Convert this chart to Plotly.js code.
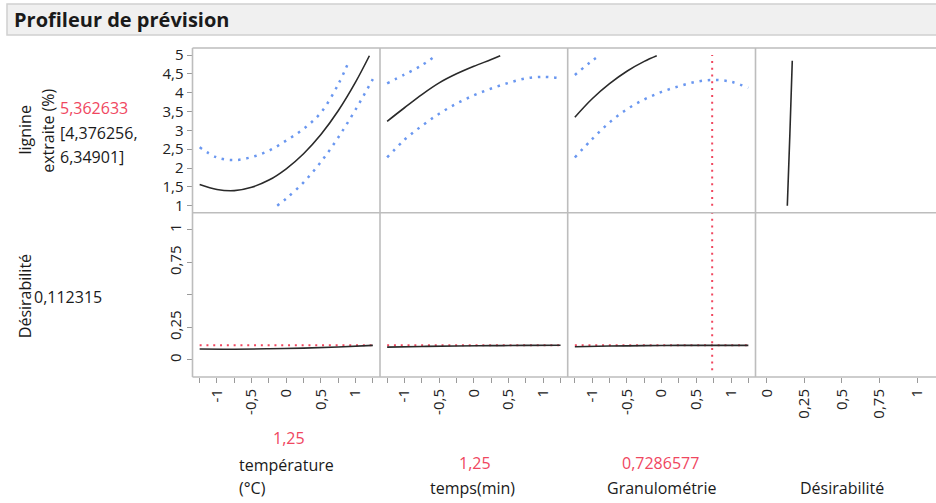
<!DOCTYPE html>
<html>
<head>
<meta charset="utf-8">
<script src="https://cdn.plot.ly/plotly-3.0.1.min.js"></script>
<style>
html,body{margin:0;padding:0;background:#fff;overflow:hidden;}
#chart{width:936px;height:503px;}
</style>
</head>
<body>
<div id="chart"></div>
<script>
// ---------- data ----------
// Top row: lignine extraite (%) vs each factor
const tempX      = [-1.25,-1,-0.75,-0.5,-0.25,0,0.25,0.5,0.75,1,1.2];
const ligTemp    = [1.56,1.43,1.40,1.49,1.68,1.98,2.38,2.89,3.52,4.28,4.98];
const tempUpX    = [-1.25,-1,-0.75,-0.5,-0.25,0,0.25,0.5,0.75,0.91];
const ligTempUp  = [2.55,2.28,2.21,2.29,2.46,2.73,3.04,3.47,4.22,4.86];
const tempLoX    = [-0.13,0,0.25,0.5,0.75,1,1.25];
const ligTempLo  = [1.0,1.19,1.62,2.16,2.81,3.55,4.36];

const tempsX     = [-1.25,-1,-0.75,-0.5,-0.25,0,0.25,0.38];
const ligTemps   = [3.24,3.60,3.95,4.26,4.50,4.70,4.88,4.98];
const tempsUpX   = [-1.25,-1,-0.75,-0.56];
const ligTempsUp = [4.25,4.48,4.73,4.97];
const tempsLoX   = [-1.25,-1,-0.75,-0.5,-0.25,0,0.25,0.5,0.75,1,1.25];
const ligTempsLo = [2.28,2.75,3.12,3.44,3.71,3.93,4.11,4.26,4.38,4.42,4.38];

const granX      = [-1.25,-1,-0.75,-0.5,-0.25,-0.07];
const ligGran    = [3.35,3.84,4.24,4.57,4.83,4.98];
const granUpX    = [-1.25,-1,-0.9];
const ligGranUp  = [4.47,4.85,4.98];
const granLoX    = [-1.25,-1,-0.75,-0.5,-0.25,0,0.25,0.5,0.75,1,1.25];
const ligGranLo  = [2.28,2.77,3.21,3.56,3.82,4.02,4.17,4.29,4.34,4.29,4.13];

// Desirability function panel (x = desirability, y = lignine)
const desFnX     = [0.137,0.154,0.17];
const desFnLig   = [1.0,2.9,4.85];

// Bottom row: desirability vs each factor
const desGridX   = [-1.25,-0.75,-0.25,0.25,0.75,1.25];
const desTemp    = [0.084,0.083,0.086,0.091,0.100,0.112];
const desTemps   = [0.099,0.104,0.108,0.110,0.112,0.113];
const desGran    = [0.102,0.107,0.110,0.112,0.1123,0.112];

// Current settings
const currentLig   = 5.362633;
const ciLow        = 4.376256;
const ciHigh       = 6.34901;
const currentDes   = 0.112315;
const currentTemp  = 1.25;
const currentTemps = 1.25;
const currentGran  = 0.7286577;
const factorSpan   = [-1.25, 1.25];

// Tick labels
const factorTickVals = [-1.25,-1,-0.75,-0.5,-0.25,0,0.25,0.5,0.75,1,1.25];
const factorTickText = ['','-1','','-0,5','','0','','0,5','','1',''];
const desTickVals    = [0,0.25,0.5,0.75,1];
const desTickText    = ['0','0,25','0,5','0,75','1'];
const ligTickVals    = [1,1.5,2,2.5,3,3.5,4,4.5,5];
const ligTickText    = ['1','1,5','2','2,5','3','3,5','4','4,5','5'];
const desYTickText   = ['0','0,25','','0,75','1'];

// ---------- styling ----------
const W = 936, H = 503;
const PX = x => x / W;
const PY = y => 1 - y / H;
const FONT = 'Open Sans, Noto Sans, sans-serif';
const RED = '#f0475f';
const BLUE = '#6a97f0';
const BLACK = '#2a2a2a';
const FRAME = '#bdbdbd';
const TICKC = '#9a9a9a';

const colEdges = [192.5, 380, 567.7, 755.5, 936];
const rowEdges = [48, 212.7, 377];

const solid = {color: BLACK, width: 1.6, shape: 'spline', smoothing: 1};
const dotBlue = {color: BLUE, width: 2.5, dash: '2.5px,5.8px', shape: 'spline', smoothing: 1};
const dotRed = {color: RED, width: 2, dash: '2px,4.8px'};

function tr(x, y, xa, ya, line) {
  return {x: x, y: y, xaxis: xa, yaxis: ya, type: 'scatter', mode: 'lines',
          line: line, hoverinfo: 'skip', showlegend: false, cliponaxis: true};
}

const traces = [
  // column 1 : température
  tr(tempX, ligTemp, 'x', 'y', solid),
  tr(tempUpX, ligTempUp, 'x', 'y', dotBlue),
  tr(tempLoX, ligTempLo, 'x', 'y', dotBlue),
  tr(factorSpan, [currentDes, currentDes], 'x', 'y2', dotRed),
  tr(desGridX, desTemp, 'x', 'y2', solid),
  // column 2 : temps
  tr(tempsX, ligTemps, 'x2', 'y', solid),
  tr(tempsUpX, ligTempsUp, 'x2', 'y', dotBlue),
  tr(tempsLoX, ligTempsLo, 'x2', 'y', dotBlue),
  tr(factorSpan, [currentDes, currentDes], 'x2', 'y2', dotRed),
  tr(desGridX, desTemps, 'x2', 'y2', solid),
  // column 3 : granulométrie
  tr(granX, ligGran, 'x3', 'y', solid),
  tr(granUpX, ligGranUp, 'x3', 'y', dotBlue),
  tr(granLoX, ligGranLo, 'x3', 'y', dotBlue),
  tr([currentGran, currentGran], [1, 5], 'x3', 'y', dotRed),
  tr([currentGran, currentGran], [-0.08, 1.13], 'x3', 'y2', dotRed),
  tr(factorSpan, [currentDes, currentDes], 'x3', 'y2', dotRed),
  tr(desGridX, desGran, 'x3', 'y2', solid),
  // column 4 : désirabilité
  tr(desFnX, desFnLig, 'x4', 'y', solid)
];

const tickFont = {family: FONT, size: 15, color: '#222'};
function factorAxis(i) {
  return {
    domain: [PX(colEdges[i]), PX(colEdges[i + 1])],
    range: i < 3 ? [-1.353, 1.353] : [-0.0744, 1.125],
    anchor: 'y2', showgrid: false, zeroline: false, showline: false,
    ticks: 'outside', ticklen: 5, tickwidth: 1, tickcolor: TICKC,
    tickmode: 'array',
    tickvals: i < 3 ? factorTickVals : desTickVals,
    ticktext: i < 3 ? factorTickText : desTickText,
    tickangle: -90, tickfont: tickFont, fixedrange: true
  };
}

const ann = [];
function A(text, x, y, opts) {
  ann.push(Object.assign({text: text, x: PX(x), y: PY(y), xref: 'paper', yref: 'paper',
    showarrow: false, xanchor: 'center', yanchor: 'middle',
    font: {family: FONT, size: 16, color: '#1a1a1a'}}, opts || {}));
}
const fmt = v => String(v).replace('.', ',');

A('<b>Profileur de prévision</b>', 12, 19.5, {xanchor: 'left', font: {family: FONT, size: 20, color: '#1a1a1a'}});
A('lignine', 25, 130.5, {textangle: -90});
A('extraite (%)', 48, 130.8, {textangle: -90});
A(fmt(currentLig), 57.5, 107.7, {xanchor: 'left', font: {family: FONT, size: 16, color: RED}});
A('[' + fmt(ciLow) + ',', 57.5, 132.5, {xanchor: 'left'});
A(fmt(ciHigh) + ']', 57.5, 156.7, {xanchor: 'left'});
A('Désirabilité', 24.5, 296.7, {textangle: -90});
A(fmt(currentDes), 32, 297.3, {xanchor: 'left'});
A(fmt(currentTemp), 288.5, 438, {font: {family: FONT, size: 16, color: RED}});
A('température', 237, 464.5, {xanchor: 'left'});
A('(°C)', 237, 488, {xanchor: 'left'});
A(fmt(currentTemps), 475, 463, {font: {family: FONT, size: 16, color: RED}});
A('temps(min)', 472.5, 488);
A(fmt(currentGran), 660, 463, {font: {family: FONT, size: 16, color: RED}});
A('Granulométrie', 661, 488);
A('Désirabilité', 841.5, 488);

const shapes = [
  {type: 'rect', xref: 'paper', yref: 'paper', x0: PX(7), x1: 1.02, y0: PY(35), y1: PY(4),
   fillcolor: '#f0f0f0', line: {color: '#d0d0d0', width: 1.5}, layer: 'below'}
];
function L(x0, y0, x1, y1) {
  shapes.push({type: 'line', xref: 'paper', yref: 'paper', x0: PX(x0), x1: PX(x1), y0: PY(y0), y1: PY(y1),
               line: {color: FRAME, width: 1.6}, layer: 'above'});
}
rowEdges.forEach(y => L(colEdges[0], y, 940, y));
colEdges.slice(0, 4).forEach(x => L(x, rowEdges[0], x, rowEdges[2]));

const layout = {
  width: W, height: H,
  margin: {l: 0, r: 0, t: 0, b: 0, pad: 0},
  paper_bgcolor: '#fff', plot_bgcolor: 'rgba(0,0,0,0)',
  font: {family: FONT, size: 15, color: '#222'},
  showlegend: false, hovermode: false,
  xaxis: factorAxis(0), xaxis2: factorAxis(1), xaxis3: factorAxis(2), xaxis4: factorAxis(3),
  yaxis: {
    domain: [PY(rowEdges[1]), PY(rowEdges[0])], range: [0.814, 5.186], anchor: 'x',
    showgrid: false, zeroline: false, showline: false,
    ticks: 'outside', ticklen: 5, tickwidth: 1, tickcolor: TICKC,
    tickmode: 'array', tickvals: ligTickVals, ticktext: ligTickText, tickfont: tickFont, fixedrange: true
  },
  yaxis2: {
    domain: [PY(rowEdges[2]), PY(rowEdges[1])], range: [-0.131, 1.133], anchor: 'x',
    showgrid: false, zeroline: false, showline: false,
    ticks: 'outside', ticklen: 5, tickwidth: 1, tickcolor: TICKC,
    tickmode: 'array', tickvals: desTickVals, ticktext: desYTickText, tickangle: -90,
    tickfont: tickFont, fixedrange: true
  },
  shapes: shapes,
  annotations: ann
};

Plotly.newPlot('chart', traces, layout, {staticPlot: true, displayModeBar: false});
</script>
</body>
</html>
